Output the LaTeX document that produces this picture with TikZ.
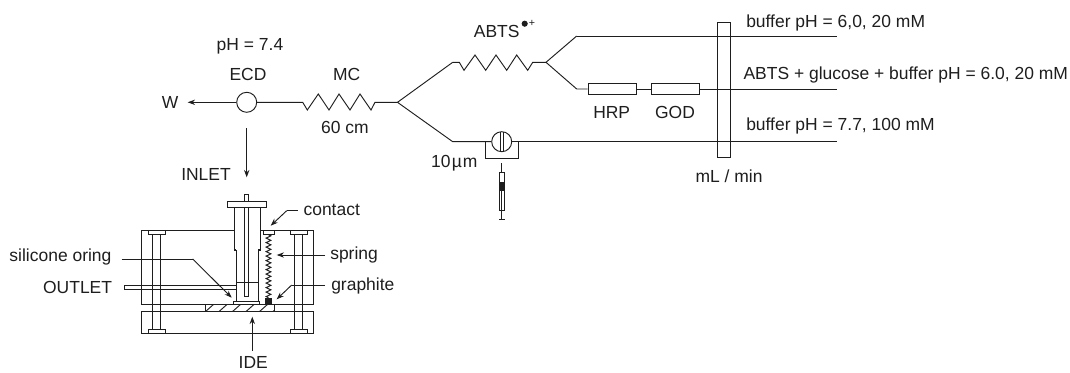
\documentclass[tikz,border=0pt]{standalone}
\usepackage{fontspec}
\setmainfont{Liberation Sans}
\usetikzlibrary{arrows.meta}
\definecolor{ink}{HTML}{1E1E1E}
\tikzset{
  every picture/.style={x=0.75pt,y=-0.75pt},
  wire/.style={draw=ink,line width=0.7pt,line join=miter},
  part/.style={draw=ink,line width=0.7pt},
  heavy/.style={draw=ink,line width=1.1pt},
  lead/.style={draw=ink,line width=0.7pt,-{Stealth[length=5.5pt,width=4pt]}},
  lab/.style={inner sep=0pt,text=ink,font=\fontsize{13.1}{15}\selectfont,anchor=base},
  labl/.style={lab,anchor=base west},
  labr/.style={lab,anchor=base east},
  valvecirc/.style={circle,draw=ink,line width=0.7pt,inner sep=0pt,minimum size=15pt,fill=white},
  boxpart/.style={rectangle,draw=ink,line width=0.7pt,inner sep=0pt,fill=white},
}
\begin{document}
\begin{tikzpicture}
\useasboundingbox (0,0) rectangle (1070,372);
% flow scheme
\coordinate (wend) at (187.7,102.3);
\coordinate (j1) at (397.5,102.3);
\coordinate (up1) at (452.7,62.3);
\coordinate (j2) at (546,62.3);
\coordinate (up2) at (576.7,36);
\coordinate (end1) at (837.3,36);
\coordinate (dn2) at (576.7,89);
\coordinate (end2) at (837.3,89);
\coordinate (dn1) at (452.7,141.7);
\coordinate (end3) at (837.3,141.7);
\coordinate (inA) at (246.7,128.3);
\coordinate (inB) at (246.7,177.3);

\node[valvecirc] (ecd) at (246.7,102.3) {};
\node[boxpart,minimum width=36.2pt,minimum height=8.7pt] (hrp) at (612.2,89) {};
\node[boxpart,minimum width=36.3pt,minimum height=8.7pt] (god) at (675.5,89) {};
\node[part,rectangle,inner sep=0pt,minimum width=9.75pt,minimum height=101.25pt] (pump) at (724.2,90.2) {};
\node[valvecirc] (valve) at (501.7,141.7) {};

\draw[lead] (ecd.west) -- (wend);
\draw[wire] (ecd.east) -- (302.7,102.3) -- (307.3,110) -- (318.3,94) -- (329,110) -- (339,94) -- (350,110) -- (360,94) -- (371,110) -- (375,102.3) -- (j1);
\draw[wire] (up1) -- (j1) -- (dn1) -- (valve.west);
\draw[wire] (up1) -- (459.3,62.3) -- (464,70.3) -- (475,55) -- (485.7,70.3) -- (496,55) -- (506.7,70.3) -- (516.7,55) -- (527.7,70.3) -- (532.7,62.3) -- (j2);
\draw[wire] (up2) -- (j2) -- (dn2) -- (hrp.west);
\draw[wire] (up2) -- (end1);
\draw[wire] (hrp.east) -- (god.west);
\draw[wire] (god.east) -- (end2);
\draw[wire] (valve.east) -- (end3);
\draw[lead] (inA) -- (inB);
% injection loop and syringe
\draw[part] (485,141.7) -- (485,158.3) -- (518.3,158.3) -- (518.3,141.7);
\draw[part] (500,132) -- (500,151.4) (503.4,132) -- (503.4,151.4);
\draw[part] (501.7,163.3) -- (501.7,172.7);
\draw[part] (499,172.7) rectangle (504.7,210.7);
\fill[ink] (499,182.3) rectangle (504.7,191);
\draw[part] (501.7,191) -- (501.7,219.3);
\draw[part] (499,219.3) -- (504.7,219.3);
\fill[ink] (524.7,23.7) circle (2.3pt);
% cell: blocks
\draw[part] (141.7,230.7) rectangle (313.3,304.3);
\draw[part] (141.7,311.7) rectangle (313.3,333.3);
% bolts
\draw[part] (152.7,234.7) -- (152.7,329) (160.7,234.7) -- (160.7,329);
\draw[part] (294.3,234.7) -- (294.3,329) (302.7,234.7) -- (302.7,329);
\foreach \a/\b in {148.7/165.7,290.3/307}{
  \draw[part,fill=white] (\a,230.7) rectangle (\b,234.7);
  \draw[part,fill=white] (\a,329) rectangle (\b,333.3);
}
% contact, spring, graphite
\draw[part,fill=white] (263.7,230.7) rectangle (274,234.7);
\draw[draw=ink,line width=0.75pt] (268.5,234.7)
  \foreach \i in {0,...,13}{ -- ++(2.3,1.12) -- ++(-4.6,2.25) -- ++(2.3,1.13)} ;
\fill[ink] (265,297.7) rectangle (272.3,304.3);
% outlet
\draw[part] (124.3,285.7) -- (236.3,285.7) (124.3,289.3) -- (236.3,289.3) (124.3,285.7) -- (124.3,289.3);
% inlet body
\fill[white] (234.3,207) rectangle (260.3,250) (236.3,250) rectangle (258.3,301.7);
\draw[heavy] (234.3,207.3) -- (234.3,250) -- (236.3,250);
\draw[heavy] (260.3,207.3) -- (260.3,250) -- (258.3,250);
\draw[part] (236.3,250) -- (236.3,301.7) (258.3,250) -- (258.3,301.7);
\draw[heavy] (236.3,282.3) -- (258.3,282.3);
\draw[part] (244.3,194.3) rectangle (248.3,296.7);
\draw[part,fill=white] (227.7,201) rectangle (266,207.3);
\draw[part,fill=white] (233.3,301.7) rectangle (259.3,304.3);
% IDE hatch
\begin{scope}
\clip (205.7,304.3) rectangle (274,311.4);
\foreach \x in {205,218.5,...,286}{\draw[part] (\x,312) -- (\x+9,304);}
\end{scope}
\draw[part] (205.7,304.3) -- (205.7,311.4) -- (274,311.4) -- (274,304.3);
% leaders
\coordinate (cA) at (297.7,210.7); \coordinate (cB) at (286.7,210.7); \coordinate (cC) at (270.7,225.7);
\draw[wire] (cA) -- (cB); \draw[lead] (cB) -- (cC);
\coordinate (sA) at (325,255); \coordinate (sB) at (276.7,255);
\draw[lead] (sA) -- (sB);
\coordinate (gA) at (325,285); \coordinate (gB) at (291.7,285); \coordinate (gC) at (276.7,299.3);
\draw[wire] (gA) -- (gB); \draw[lead] (gB) -- (gC);
\coordinate (oA) at (121.7,259); \coordinate (oB) at (192.7,259); \coordinate (oC) at (231.7,297.7);
\draw[wire] (oA) -- (oB); \draw[lead] (oB) -- (oC);
\coordinate (iA) at (252.3,350.7); \coordinate (iB) at (252.3,316.7);
\draw[lead] (iA) -- (iB);
% labels
\node[lab] (tph) at (250,50.7) {pH = 7.4};
\node[lab] (tecd) at (248,80) {ECD};
\node[lab] (tmc) at (346.7,80) {MC};
\node[lab] (tw) at (170,108) {W};
\node[lab] (t60) at (345,133) {60 cm};
\node[lab] (tinlet) at (206,180.7) {INLET};
\node[lab] (tabts) at (496.7,37.7) {ABTS};
\node[lab,font=\fontsize{8}{9}\selectfont] (tplus) at (532,26.8) {+};
\node[lab] (t10) at (454.3,167.7) {10\kern1pt µ\kern0.6pt m};
\node[lab] (thrp) at (611.7,118.7) {HRP};
\node[lab] (tgod) at (675,118.7) {GOD};
\node[labl] (tb1) at (746,27.3) {buffer pH = 6,0, 20 mM};
\node[labl] (tb2) at (743.3,79.3) {ABTS + glucose + buffer pH = 6.0, 20 mM};
\node[labl] (tb3) at (746,130) {buffer pH = 7.7, 100 mM};
\node[lab] (tml) at (729,182.3) {mL / min};
\node[labl] (tcontact) at (303.3,215) {contact};
\node[labl] (tspring) at (330,259) {spring};
\node[labl] (tgraph) at (331,290) {graphite};
\node[labr] (toring) at (111.7,261.7) {silicone oring};
\node[labr] (toutlet) at (112.3,293.3) {OUTLET};
\node[lab] (tide) at (253.3,368.5) {IDE};
\end{tikzpicture}
\end{document}
